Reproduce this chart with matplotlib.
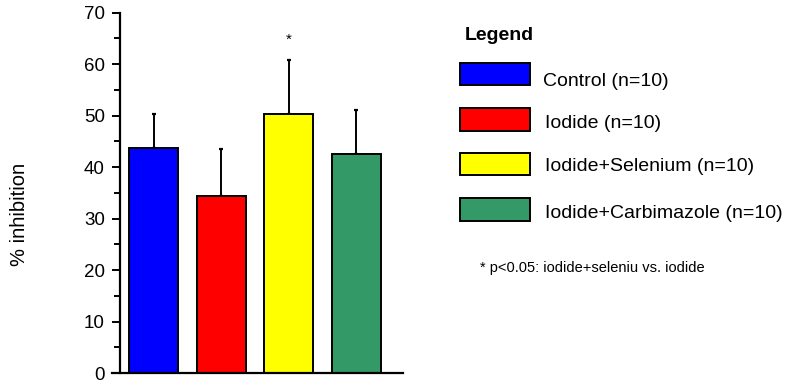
import matplotlib
matplotlib.use("Agg")
import matplotlib.pyplot as plt
from matplotlib.patches import Rectangle

plt.rcParams['font.family'] = ['Liberation Sans', 'DejaVu Sans']

# data
groups = ["Control (n=10)", "Iodide (n=10)", "Iodide+Selenium (n=10)", "Iodide+Carbimazole (n=10)"]
means = [43.8, 34.3, 50.3, 42.5]
errors = [6.5, 9.2, 10.6, 8.6]
colors = ["#0000FF", "#FF0000", "#FFFF00", "#339966"]
note = "* p<0.05: iodide+seleniu vs. iodide"

fig = plt.figure(figsize=(7.87, 3.87), dpi=100)
ax = fig.add_axes([120 / 787, 14 / 387, 283 / 787, 360.3 / 387])

x = list(range(len(means)))
ax.bar(x, means, width=0.725, color=colors, edgecolor="black", linewidth=1.4, zorder=2)
ax.errorbar(x, means, yerr=[[0] * len(errors), errors], fmt="none", ecolor="black",
            elinewidth=1.4, capsize=1.6, capthick=1.6, zorder=1)

# significance mark
ax.text(x[2], 64.7, "*", ha="center", va="center", fontsize=11)

ax.set_xlim(-0.5, 3.69)
ax.set_ylim(0, 70)
ax.set_yticks(range(0, 71, 10))
ax.set_yticks(range(5, 70, 10), minor=True)
ax.set_xticks([])
ax.tick_params(axis="y", which="major", length=6, width=1.4, labelsize=13.5, pad=5)
ax.tick_params(axis="y", which="minor", length=4, width=1.4)
for s in ["top", "right"]:
    ax.spines[s].set_visible(False)
for s in ["left", "bottom"]:
    ax.spines[s].set_linewidth(1.6)
ax.spines["bottom"].set_bounds(-0.62, 3.69)
ax.spines["bottom"].set_clip_on(False)

fig.text(20 / 787, 1 - 214 / 387, "% inhibition", rotation=90, ha="center", va="center", fontsize=14.5)

# legend drawn by hand
fig.text(465 / 787, 1 - 36 / 387, "Legend", fontsize=14, fontweight="bold", va="center")
box_tops = [62.7, 108, 153, 198]
text_y = [81.7, 123, 166.7, 213]
text_x = [542.7, 545, 545, 545]
for i in range(len(groups)):
    fig.patches.append(Rectangle((460 / 787, 1 - (box_tops[i] + 22.5) / 387), 70 / 787, 22.5 / 387,
                                 transform=fig.transFigure, facecolor=colors[i],
                                 edgecolor="black", linewidth=1.4))
    fig.text(text_x[i] / 787, 1 - text_y[i] / 387, groups[i], fontsize=14, va="center")

fig.text(480 / 787, 1 - 268 / 387, note, fontsize=10.5, va="center")

fig.savefig("out.png", dpi=100)
